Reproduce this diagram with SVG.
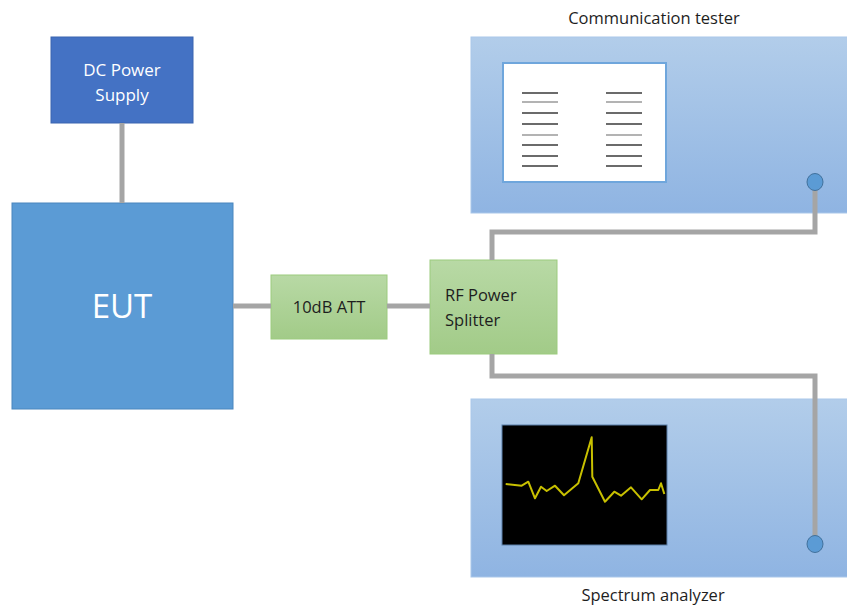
<svg xmlns="http://www.w3.org/2000/svg" width="847" height="605" viewBox="0 0 847 605">
<style>
text{font-family:"Open Sans","Liberation Sans",sans-serif}
.conn{fill:none;stroke:#A5A5A5;stroke-width:5}
.inst{fill:url(#gb);stroke:#A9C7EA;stroke-width:1}
.green{fill:url(#gg);stroke:#9CCB7E;stroke-width:1}
.ln{stroke:#6B6B6B;stroke-width:2}
.lnl{stroke:#9A9A9A;stroke-width:1.5}
.dot{fill:#5B9BD5;stroke:#41719C;stroke-width:1}
.wt{fill:#FFFFFF;text-anchor:middle}
.bt{fill:#1E1E1E;font-size:16.5px}
.lbl{fill:#1E1E1E;font-size:16.5px;text-anchor:middle}
</style>
<defs>
<linearGradient id="gb" x1="0" y1="0" x2="0" y2="1"><stop offset="0" stop-color="#B2CDEA"/><stop offset="1" stop-color="#8FB4E2"/></linearGradient>
<linearGradient id="gg" x1="0" y1="0" x2="0" y2="1"><stop offset="0" stop-color="#B8D9A5"/><stop offset="1" stop-color="#A2CB88"/></linearGradient>
</defs>
<g id="dc">
<rect x="51" y="37" width="142" height="86" fill="#4472C4" stroke="#3A64B0" stroke-width="1"/>
<text class="wt" x="122" y="76" font-size="17">DC Power</text>
<text class="wt" x="122" y="101" font-size="17">Supply</text>
</g>
<g id="eut">
<rect x="12" y="203" width="221" height="206" fill="#5B9BD5" stroke="#4A86BE" stroke-width="1"/>
<text class="wt" x="122" y="318" font-size="33">EUT</text>
</g>
<g id="att">
<rect class="green" x="271" y="275" width="116" height="64"/>
<text class="bt" x="329" y="313" text-anchor="middle">10dB ATT</text>
</g>
<g id="splitter">
<rect class="green" x="430" y="260" width="127" height="94"/>
<text class="bt" x="445" y="301">RF Power</text>
<text class="bt" x="445" y="326">Splitter</text>
</g>
<g id="comm">
<rect class="inst" x="471" y="37" width="380" height="176"/>
<rect x="503" y="63" width="163" height="119" fill="#FFFFFF" stroke="#6FA6DC" stroke-width="2"/>
<g>
<line class="ln" x1="522" y1="93" x2="558" y2="93"/><line class="ln" x1="606" y1="93" x2="642" y2="93"/>
<line class="lnl" x1="522" y1="102" x2="558" y2="102"/><line class="lnl" x1="606" y1="102" x2="642" y2="102"/>
<line class="ln" x1="522" y1="113" x2="558" y2="113"/><line class="ln" x1="606" y1="113" x2="642" y2="113"/>
<line class="ln" x1="522" y1="124" x2="558" y2="124"/><line class="ln" x1="606" y1="124" x2="642" y2="124"/>
<line class="lnl" x1="522" y1="135" x2="558" y2="135"/><line class="lnl" x1="606" y1="135" x2="642" y2="135"/>
<line class="ln" x1="522" y1="145" x2="558" y2="145"/><line class="ln" x1="606" y1="145" x2="642" y2="145"/>
<line class="ln" x1="522" y1="156" x2="558" y2="156"/><line class="ln" x1="606" y1="156" x2="642" y2="156"/>
<line class="ln" x1="522" y1="166" x2="558" y2="166"/><line class="ln" x1="606" y1="166" x2="642" y2="166"/>
</g>
<text class="lbl" x="654" y="24">Communication tester</text>
</g>
<g id="spectrum">
<rect class="inst" x="471" y="399" width="380" height="178"/>
<rect x="502" y="425" width="165" height="120" fill="#000000" stroke="#5A7FA8" stroke-width="1"/>
<polyline fill="none" stroke="#C8C000" stroke-width="2" stroke-linejoin="round" points="505.7,484 521.7,485.7 528.3,481.7 535,498.3 541,486.7 546.7,491 555,485.7 564,495.3 578.3,483.3 591.7,437.3 592.3,476.7 605,501.7 614.3,491.7 621,495.7 631,487.3 641.7,499.3 650,490 658.3,490 661,483.3 664.3,494"/>
<text class="lbl" x="653" y="601">Spectrum analyzer</text>
</g>
<g id="connectors">
<line class="conn" x1="122" y1="123" x2="122" y2="203"/>
<line class="conn" x1="233" y1="306" x2="271" y2="306"/>
<line class="conn" x1="387" y1="306" x2="430" y2="306"/>
<polyline class="conn" points="492,260 492,232 815,232 815,185"/>
<polyline class="conn" points="492,354 492,376 815,376 815,541"/>
<ellipse class="dot" cx="815" cy="182" rx="8" ry="8.5"/>
<ellipse class="dot" cx="815" cy="544" rx="8" ry="8.5"/>
</g>
</svg>
